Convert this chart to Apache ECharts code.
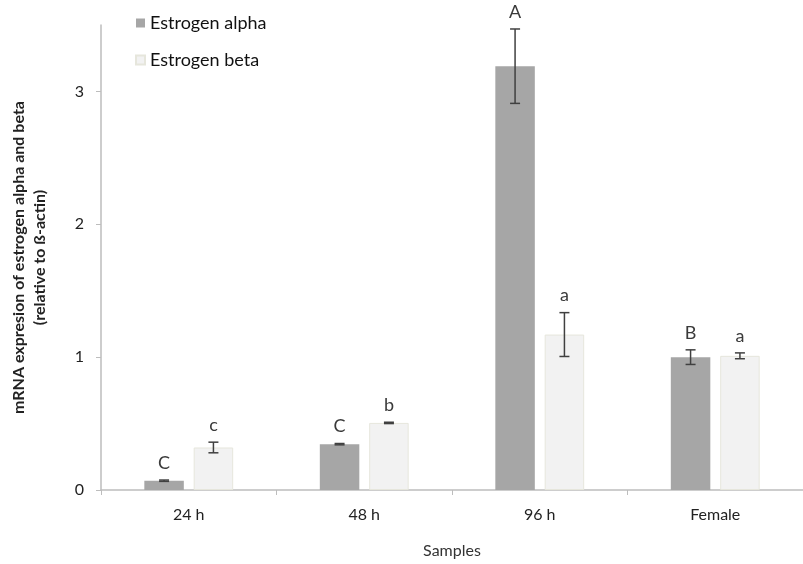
<!DOCTYPE html>
<html>
<head>
<meta charset="utf-8">
<script src="https://cdn.jsdelivr.net/npm/echarts@6/dist/echarts.min.js"></script>
<style>html,body{margin:0;padding:0;background:#fff;}#c{width:803px;height:564px;}</style>
</head>
<body>
<div id="c"></div>
<script>
const categories = ['24 h', '48 h', '96 h', 'Female'];
const alphaValues = [0.07, 0.345, 3.19, 1.00];
const alphaErrors = [0.005, 0.005, 0.28, 0.055];
const alphaLetters = ['C', 'C', 'A', 'B'];
const betaValues = [0.32, 0.505, 1.17, 1.01];
const betaErrors = [0.04, 0.005, 0.165, 0.022];
const betaLetters = ['c', 'b', 'a', 'a'];
const yTicks = [0, 1, 2, 3];

const FONT = 'Lato, "Open Sans", sans-serif';
const BAR_PCT = 0.225, GAP_PCT = 0.25;

function errRender(letters, side) {
  return function (params, api) {
    const i = api.value(0), v = api.value(1), e = api.value(2);
    const band = api.size([1, 0])[0];
    const barW = band * BAR_PCT;
    const off = side * barW * (1 + GAP_PCT) / 2;
    const x = api.coord([i, v])[0] + off;
    const yt = api.coord([i, v + e])[1];
    const yb = api.coord([i, v - e])[1];
    const cap = 5;
    const st = { stroke: '#404040', lineWidth: 1.5 };
    return {
      type: 'group',
      children: [
        { type: 'line', shape: { x1: x, y1: yt, x2: x, y2: yb }, style: st },
        { type: 'line', shape: { x1: x - cap, y1: yt, x2: x + cap, y2: yt }, style: st },
        { type: 'line', shape: { x1: x - cap, y1: yb, x2: x + cap, y2: yb }, style: st },
        { type: 'text', x: x, y: yt - 8, style: { text: letters[params.dataIndex], textAlign: 'center', textVerticalAlign: 'bottom', fill: '#3a3a3a', font: '18px ' + FONT } }
      ]
    };
  };
}

const chart = echarts.init(document.getElementById('c'));
chart.setOption({
  animation: false,
  backgroundColor: '#fff',
  textStyle: { fontFamily: FONT },
  legend: {
    orient: 'vertical', left: 130, top: 9, itemGap: 19, itemWidth: 9, itemHeight: 9,
    icon: 'rect',
    textStyle: { fontSize: 18, color: '#111', fontFamily: FONT },
    data: ['Estrogen alpha', 'Estrogen beta']
  },
  grid: { left: 99, width: 712, top: 25, bottom: 64, containLabel: false },
  xAxis: {
    type: 'category', data: categories,
    name: 'Samples', nameLocation: 'middle', nameGap: 53,
    nameTextStyle: { fontSize: 16, color: '#333', fontFamily: FONT },
    axisLine: { lineStyle: { color: '#bdbdbd', width: 1.5 } },
    axisTick: { show: true, length: 5, lineStyle: { color: '#bdbdbd' } },
    axisLabel: { fontSize: 16, color: '#222', margin: 17, fontFamily: FONT }
  },
  yAxis: {
    type: 'value', min: 0, max: 3.5, interval: 1,
    name: 'mRNA expresion of estrogen alpha and beta\n(relative to ß-actin)',
    nameLocation: 'middle', nameGap: 51, nameRotate: 90,
    nameTextStyle: { fontSize: 16, fontWeight: 'bold', color: '#222', lineHeight: 21, fontFamily: FONT },
    axisLine: { show: true, lineStyle: { color: '#bdbdbd', width: 1.5 } },
    axisTick: { show: true, length: 5, lineStyle: { color: '#bdbdbd' }, customValues: yTicks },
    axisLabel: { fontSize: 16, color: '#222', margin: 17, fontFamily: FONT, customValues: yTicks },
    splitLine: { show: false }
  },
  series: [
    { name: 'Estrogen alpha', type: 'bar', data: alphaValues, barWidth: (BAR_PCT * 100) + '%', barGap: (GAP_PCT * 100) + '%',
      itemStyle: { color: '#a6a6a6' } },
    { name: 'Estrogen beta', type: 'bar', data: betaValues, barWidth: (BAR_PCT * 100) + '%', barGap: (GAP_PCT * 100) + '%',
      itemStyle: { color: '#f2f2f2', borderColor: '#e6e6dc', borderWidth: 1 } },
    { type: 'custom', z: 5, renderItem: errRender(alphaLetters, -1), encode: { x: 0, y: 1 },
      data: categories.map((c, i) => [i, alphaValues[i], alphaErrors[i]]) },
    { type: 'custom', z: 5, renderItem: errRender(betaLetters, 1), encode: { x: 0, y: 1 },
      data: categories.map((c, i) => [i, betaValues[i], betaErrors[i]]) }
  ]
});
</script>
</body>
</html>
